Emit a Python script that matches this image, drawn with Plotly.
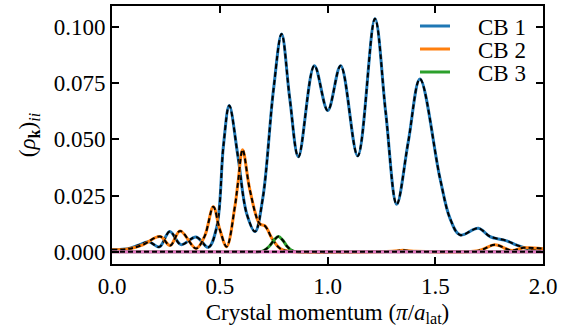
import plotly.graph_objects as go

# ---- data ----
cb1_x = [0.00, 0.08, 0.13, 0.17, 0.22, 0.268, 0.32, 0.39, 0.447, 0.486, 0.517, 0.544,
         0.585, 0.625, 0.664, 0.70, 0.749, 0.787, 0.825, 0.865, 0.939, 1.001, 1.061,
         1.140, 1.220, 1.27, 1.321, 1.375, 1.429, 1.522, 1.568, 1.615, 1.70, 1.754,
         1.832, 1.878, 1.94, 2.00]
cb1_y = [0.0009, 0.0015, 0.0032, 0.0045, 0.0022, 0.0090, 0.0032, 0.0066, 0.0020, 0.0110,
         0.0470, 0.0650, 0.0420, 0.0170, 0.0090, 0.0240, 0.0717, 0.0968, 0.0680, 0.0422,
         0.0827, 0.0628, 0.0827, 0.0426, 0.1035, 0.0620, 0.0211, 0.0490, 0.0768, 0.0327,
         0.0150, 0.0075, 0.0105, 0.0068, 0.0049, 0.0030, 0.0012, 0.0012]

cb2_x = [0.00, 0.08, 0.14, 0.223, 0.27, 0.316, 0.39, 0.43, 0.470, 0.500, 0.532, 0.57,
         0.585, 0.606, 0.640, 0.685, 0.710, 0.745, 0.78, 0.82, 1.30, 1.35, 1.40, 1.70,
         1.777, 1.855, 1.91, 2.00]
cb2_y = [0.0009, 0.0014, 0.0030, 0.0068, 0.0028, 0.0093, 0.0015, 0.0070, 0.0200, 0.0100,
         0.0023, 0.0200, 0.0310, 0.0454, 0.0274, 0.0125, 0.0115, 0.0055, 0.0015, 0.0003,
         0.0003, 0.0007, 0.0003, 0.0005, 0.0031, 0.0006, 0.0018, 0.0014]

cb3_x = [0.00, 0.66, 0.68, 0.705, 0.73, 0.752, 0.772, 0.792, 0.812, 0.835, 0.86, 0.88, 2.00]
cb3_y = [0.0, 0.0, 0.0, 0.0006, 0.0025, 0.0052, 0.0068, 0.0052, 0.0025, 0.0006, 0.0, 0.0, 0.0]

rest_x = [0.0, 2.0]
rest_y = [0.0, 0.0]

x_ticks = [0.0, 0.5, 1.0, 1.5, 2.0]
y_ticks = [0.0, 0.025, 0.05, 0.075, 0.1]

names = ["CB 1", "CB 2", "CB 3"]
colors = ["#1f77b4", "#ff7f0e", "#2ca02c", "#e377c2"]

FONT = "'Liberation Serif', Tinos, 'Times New Roman', 'DejaVu Serif', serif"
FS = 23
fig = go.Figure()

series = [(cb1_x, cb1_y), (cb2_x, cb2_y), (cb3_x, cb3_y), (rest_x, rest_y)]
legends = ["legend", "legend2", "legend3", None]
for i, (xs, ys) in enumerate(series):
    show = i < 3
    fig.add_trace(go.Scatter(
        x=xs, y=ys, mode="lines",
        line=dict(color=colors[i], width=3.2 if i == 3 else 3, shape="spline", smoothing=1),
        name=("\u2002\u2002" + names[i]) if show else "CB 4", showlegend=show,
        legend=legends[i] if show else None,
    ))
    fig.add_trace(go.Scatter(
        x=xs, y=ys, mode="lines",
        line=dict(color="black", width=2, dash="5px,3px", shape="spline", smoothing=1),
        showlegend=False, hoverinfo="skip",
    ))

axis_common = dict(
    showline=True, linecolor="black", linewidth=1.8, mirror="allticks",
    ticks="inside", ticklen=7, tickwidth=1.5, tickcolor="black",
    showgrid=False, zeroline=False,
    tickfont=dict(family=FONT, size=FS, color="black"),
)

fig.update_xaxes(range=[0, 2], tickvals=x_ticks, tickformat=".1f",
                 title=dict(text="Crystal momentum (<i>π</i>/<i>a</i><sub>lat</sub>)",
                            font=dict(family=FONT, size=FS, color="black"), standoff=6),
                 **axis_common)
fig.update_yaxes(range=[-0.0054, 0.1092], tickvals=y_ticks, tickformat=".3f",
                 title=dict(text="(<i>ρ</i><sub><b>k</b></sub>)<sub><i>ii</i></sub>",
                            font=dict(family=FONT, size=FS, color="black"), standoff=12),
                 **axis_common)

leg_common = dict(xanchor="left", yanchor="middle", bgcolor="rgba(0,0,0,0)",
                  font=dict(family=FONT, size=FS, color="black"), itemwidth=30)
fig.update_layout(
    width=572, height=329,
    margin=dict(l=112, r=29, t=5, b=65),
    paper_bgcolor="white", plot_bgcolor="white",
    font=dict(family=FONT, color="black"),
    legend=dict(x=0.703, y=0.919, **leg_common),
    legend2=dict(x=0.703, y=0.830, **leg_common),
    legend3=dict(x=0.703, y=0.741, **leg_common),
)

fig.write_html("out.html")
